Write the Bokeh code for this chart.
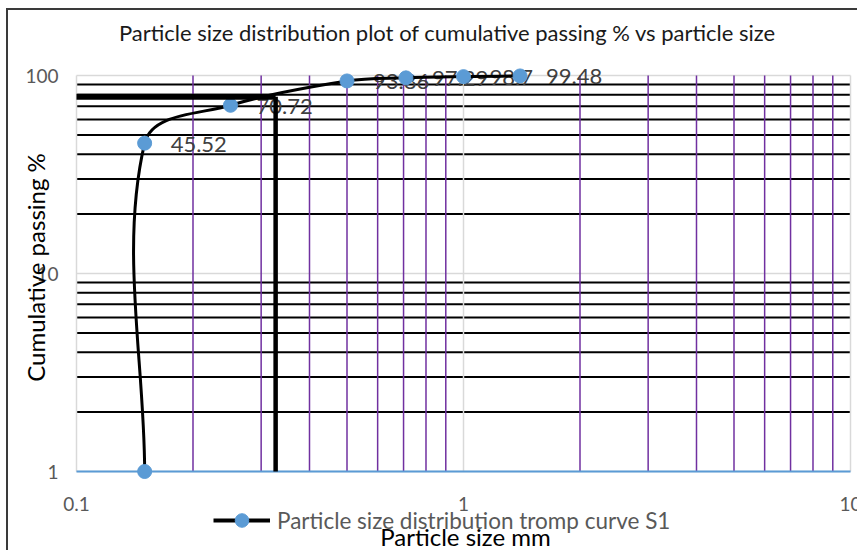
import numpy as np
from bokeh.plotting import figure
from bokeh.models import Label, Legend, LegendItem, Range1d, ColumnDataSource
from bokeh.core.properties import value
from bokeh.embed import file_html
from bokeh.resources import INLINE

# ---------------- data ----------------
size_mm = [0.15, 0.15, 0.25, 0.5, 0.71, 1.0, 1.4]
passing = [1.0, 45.52, 70.72, 93.86, 97.29, 98.7, 99.48]
point_labels = ["", "45.52", "70.72", "93.86", "97.29", "98.7", "99.48"]
d_cut_size = 0.327
d_cut_passing = 78.0
x_ticks = [0.1, 1, 10]
x_tick_labels = ["0.1", "1", "10"]
x_minor = [0.2, 0.3, 0.4, 0.5, 0.6, 0.7, 0.8, 0.9, 2, 3, 4, 5, 6, 7, 8, 9]
y_ticks = [1, 10, 100]
y_tick_labels = ["1", "10", "100"]
y_minor = [2, 3, 4, 5, 6, 7, 8, 9, 20, 30, 40, 50, 60, 70, 80, 90]
title_text = "Particle size distribution plot of cumulative passing % vs particle size"
x_title = "Particle size mm"
y_title = "Cumulative passing %"
series_name = "Particle size distribution tromp curve S1"

FONT = "Lato"
BLUE = "#5B9BD5"

# ---------------- layout (page pixels) ----------------
W, H = 851, 542            # canvas; placed at page (8, 10)
CX0, CY0 = 8, 10
PL, PR, PT, PB = 76, 850, 75, 471   # plot-area edges on the page
PX_X = (PR - PL) / 2.0     # px per decade (x spans 0.1..10)
PX_Y = (PB - PT) / 2.0     # px per decade (y spans 1..100)

def dx(px):
    return 10 ** (-1 + (px - PL) / PX_X)

def dy(py):
    return 10 ** ((PB - py) / PX_Y)

p = figure(width=W, height=H, x_axis_type="log", y_axis_type="log",
           x_axis_location=None, y_axis_location=None,
           x_range=Range1d(dx(CX0), dx(CX0 + W)),
           y_range=Range1d(dy(CY0 + H), dy(CY0)),
           output_backend="svg", toolbar_location=None, min_border=0)
p.margin = (8, 0, 0, 6)
p.styles = {"border-left": "2px solid #3a3a3a", "border-top": "2px solid #3a3a3a"}
p.outline_line_color = None
p.background_fill_color = "white"
p.border_fill_color = "white"
p.xgrid.visible = False
p.ygrid.visible = False

x_lo, x_hi = x_ticks[0], x_ticks[-1]
y_lo, y_hi = y_ticks[0], y_ticks[-1]

# ---------------- gridlines (from the tick arrays) ----------------
p.segment(x0=[x_lo] * len(y_minor), y0=y_minor, x1=[x_hi] * len(y_minor), y1=y_minor,
          line_color="black", line_width=2)
p.segment(x0=[x_lo] * len(y_ticks), y0=y_ticks, x1=[x_hi] * len(y_ticks), y1=y_ticks,
          line_color="#D9D9D9", line_width=1.5)
p.segment(x0=x_minor, y0=[y_lo] * len(x_minor), x1=x_minor, y1=[y_hi] * len(x_minor),
          line_color="#7030A0", line_width=1.5)
p.segment(x0=x_ticks, y0=[y_lo] * len(x_ticks), x1=x_ticks, y1=[y_hi] * len(x_ticks),
          line_color="#D9D9D9", line_width=1.5)
# horizontal axis line
p.segment(x0=[x_lo], y0=[y_lo], x1=[x_hi], y1=[y_lo], line_color=BLUE, line_width=2)

# ---------------- tick labels ----------------
p.text(x=x_ticks, y=[dy(503)] * len(x_ticks), text=x_tick_labels,
       text_align="center", text_baseline="middle",
       text_font=value(FONT), text_font_size="19px", text_color="#595959")
p.text(x=[dx(58)] * len(y_ticks), y=y_ticks, text=y_tick_labels,
       text_align="right", text_baseline="middle",
       text_font=value(FONT), text_font_size="19px", text_color="#595959")

# ---------------- data labels ----------------
lab_src = ColumnDataSource(dict(x=size_mm, y=passing, t=point_labels))
p.text(x="x", y="y", text="t", source=lab_src, x_offset=26, y_offset=1,
       text_align="left", text_baseline="middle",
       text_font=value(FONT), text_font_size="22px", text_color="#404040")

# ---------------- smoothed curve (Bezier through the data, screen space) ----------------
U = np.log10(np.array(size_mm)) * PX_X
V = np.log10(np.array(passing)) * PX_Y
P = np.column_stack([U, V])
n = len(P)
T = []
for i in range(n):
    a = P[max(i - 1, 0)]
    b = P[min(i + 1, n - 1)]
    d = b - a
    T.append(d / np.hypot(*d))
T = np.array(T)
bz = {k: [] for k in ("x0", "y0", "x1", "y1", "cx0", "cy0", "cx1", "cy1")}
for i in range(n - 1):
    L = np.hypot(*(P[i + 1] - P[i]))
    c1 = P[i] + T[i] * L / 3.0
    c2 = P[i + 1] - T[i + 1] * L / 3.0
    bz["x0"].append(10 ** (P[i][0] / PX_X)); bz["y0"].append(10 ** (P[i][1] / PX_Y))
    bz["x1"].append(10 ** (P[i + 1][0] / PX_X)); bz["y1"].append(10 ** (P[i + 1][1] / PX_Y))
    bz["cx0"].append(10 ** (c1[0] / PX_X)); bz["cy0"].append(10 ** (c1[1] / PX_Y))
    bz["cx1"].append(10 ** (c2[0] / PX_X)); bz["cy1"].append(10 ** (c2[1] / PX_Y))
p.bezier(line_color="black", line_width=3, **bz)

sc = p.scatter(size_mm, passing, size=14, fill_color=BLUE, line_color=BLUE)

# ---------------- D-cut guide lines ----------------
p.line([x_lo, d_cut_size], [d_cut_passing, d_cut_passing], line_color="black", line_width=6)
p.line([d_cut_size, d_cut_size], [d_cut_passing, y_lo], line_color="black", line_width=4.5)

# ---------------- titles ----------------
p.add_layout(Label(x=dx(447), y=dy(32), text=title_text, text_align="center",
                   text_baseline="middle", text_font=FONT,
                   text_font_size="22px", text_color="#1a1a1a"))
p.add_layout(Label(x=dx(465), y=dy(536), text=x_title, text_align="center",
                   text_baseline="middle", text_font=FONT,
                   text_font_size="24px", text_color="black"))
p.add_layout(Label(x=dx(35), y=dy(267), text=y_title, text_align="center",
                   text_baseline="middle", angle=np.pi / 2, text_font=FONT,
                   text_font_size="24px", text_color="black"))

# ---------------- legend ----------------
leg_line = p.line(x=[np.nan], y=[np.nan], line_color="black", line_width=4)
legend = Legend(items=[LegendItem(label=series_name, renderers=[leg_line, sc])],
                location=(213 - CX0, (CY0 + H) - 537), padding=0, margin=0, spacing=0,
                glyph_width=57, glyph_height=34, label_height=34,
                label_standoff=7, border_line_color=None,
                background_fill_alpha=0,
                label_text_font=FONT, label_text_font_size="22.5px",
                label_text_color="#595959")
p.add_layout(legend, "center")

open("out.html", "w").write(file_html(p, INLINE))
